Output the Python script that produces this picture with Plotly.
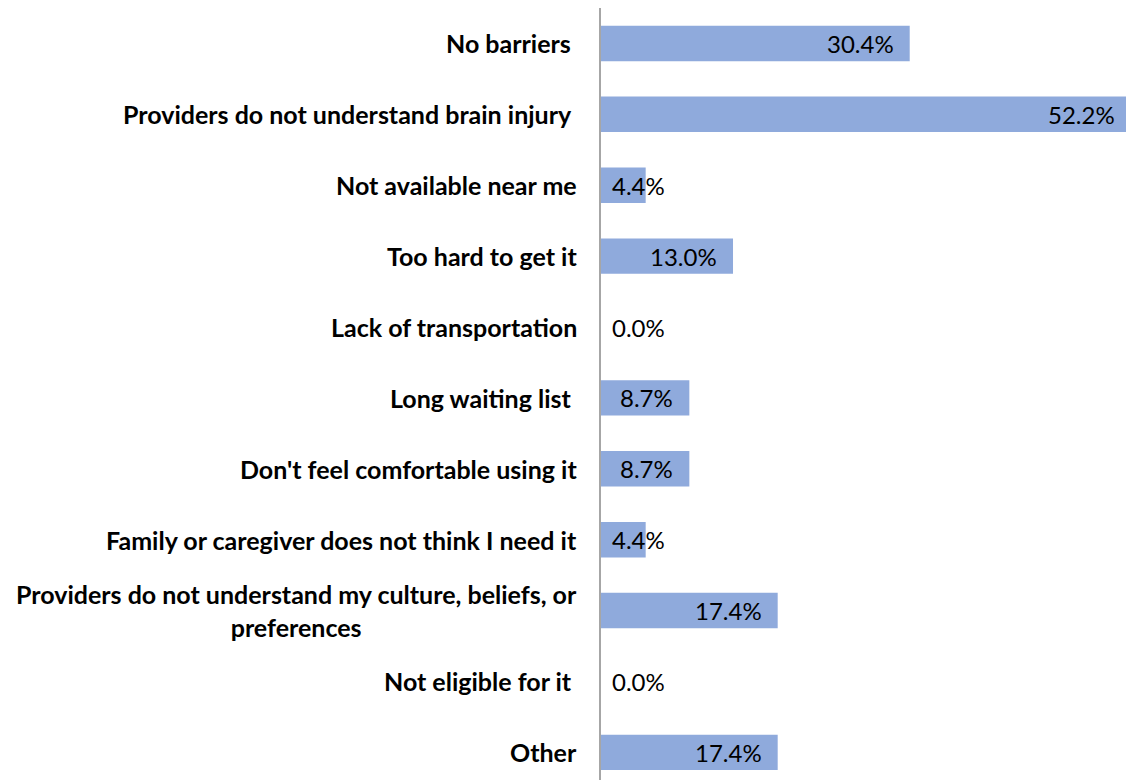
import plotly.graph_objects as go

categories = [
    "No barriers\u00a0",
    "Providers do not understand brain injury\u00a0",
    "Not available near me",
    "Too hard to get it",
    "Lack of transportation",
    "Long waiting list\u00a0",
    "Don't feel comfortable using it",
    "Family or caregiver does not think I need it",
    "Providers do not understand my culture, beliefs, or<br>preferences",
    "Not eligible for it\u00a0",
    "Other",
]
values = [30.4, 52.2, 4.4, 13.0, 0.0, 8.7, 8.7, 4.4, 17.4, 0.0, 17.4]

BAR_COLOR = "#8FAADC"
FONT = "Lato"
X_MAX = 51.7

fig = go.Figure()
fig.add_trace(go.Bar(
    x=values,
    y=categories,
    orientation="h",
    marker=dict(color=BAR_COLOR, line=dict(width=0)),
    textposition="none",
    hoverinfo="skip",
))

annotations = []
for cat, v in zip(categories, values):
    # category label
    annotations.append(dict(
        x=0, xref="paper", y=cat, yref="y",
        text=f"<b>{cat}</b>", showarrow=False,
        xanchor="right", yanchor="middle", align="center",
        xshift=-22,
        font=dict(family=FONT, size=25, color="#000000"),
    ))
    # value label
    label = f"{v:.1f}%"
    vfont = dict(family=FONT, size=24, color="#000000")
    if v > X_MAX:
        # bar runs past the visible edge: label sits at the edge
        annotations.append(dict(
            x=1, xref="paper", y=cat, yref="y", text=label, showarrow=False,
            xanchor="right", yanchor="middle", xshift=-9, font=vfont,
        ))
    elif v >= 7:
        annotations.append(dict(
            x=v, xref="x", y=cat, yref="y", text=label, showarrow=False,
            xanchor="right", yanchor="middle", xshift=-14, font=vfont,
        ))
    else:
        annotations.append(dict(
            x=0, xref="x", y=cat, yref="y", text=label, showarrow=False,
            xanchor="left", yanchor="middle", xshift=9, font=vfont,
        ))

fig.update_layout(
    width=1126, height=780,
    margin=dict(l=601, r=0, t=8, b=0),
    paper_bgcolor="white", plot_bgcolor="white",
    bargap=0.5,
    showlegend=False,
    annotations=annotations,
    xaxis=dict(range=[0, X_MAX], visible=False, showgrid=False, zeroline=False, fixedrange=True),
    yaxis=dict(
        range=[10.39, -0.5], showticklabels=False, ticks="",
        showline=True, linecolor="#A6A6A6", linewidth=1.5,
        showgrid=False, zeroline=False, fixedrange=True,
    ),
)

fig.write_html("out.html")
